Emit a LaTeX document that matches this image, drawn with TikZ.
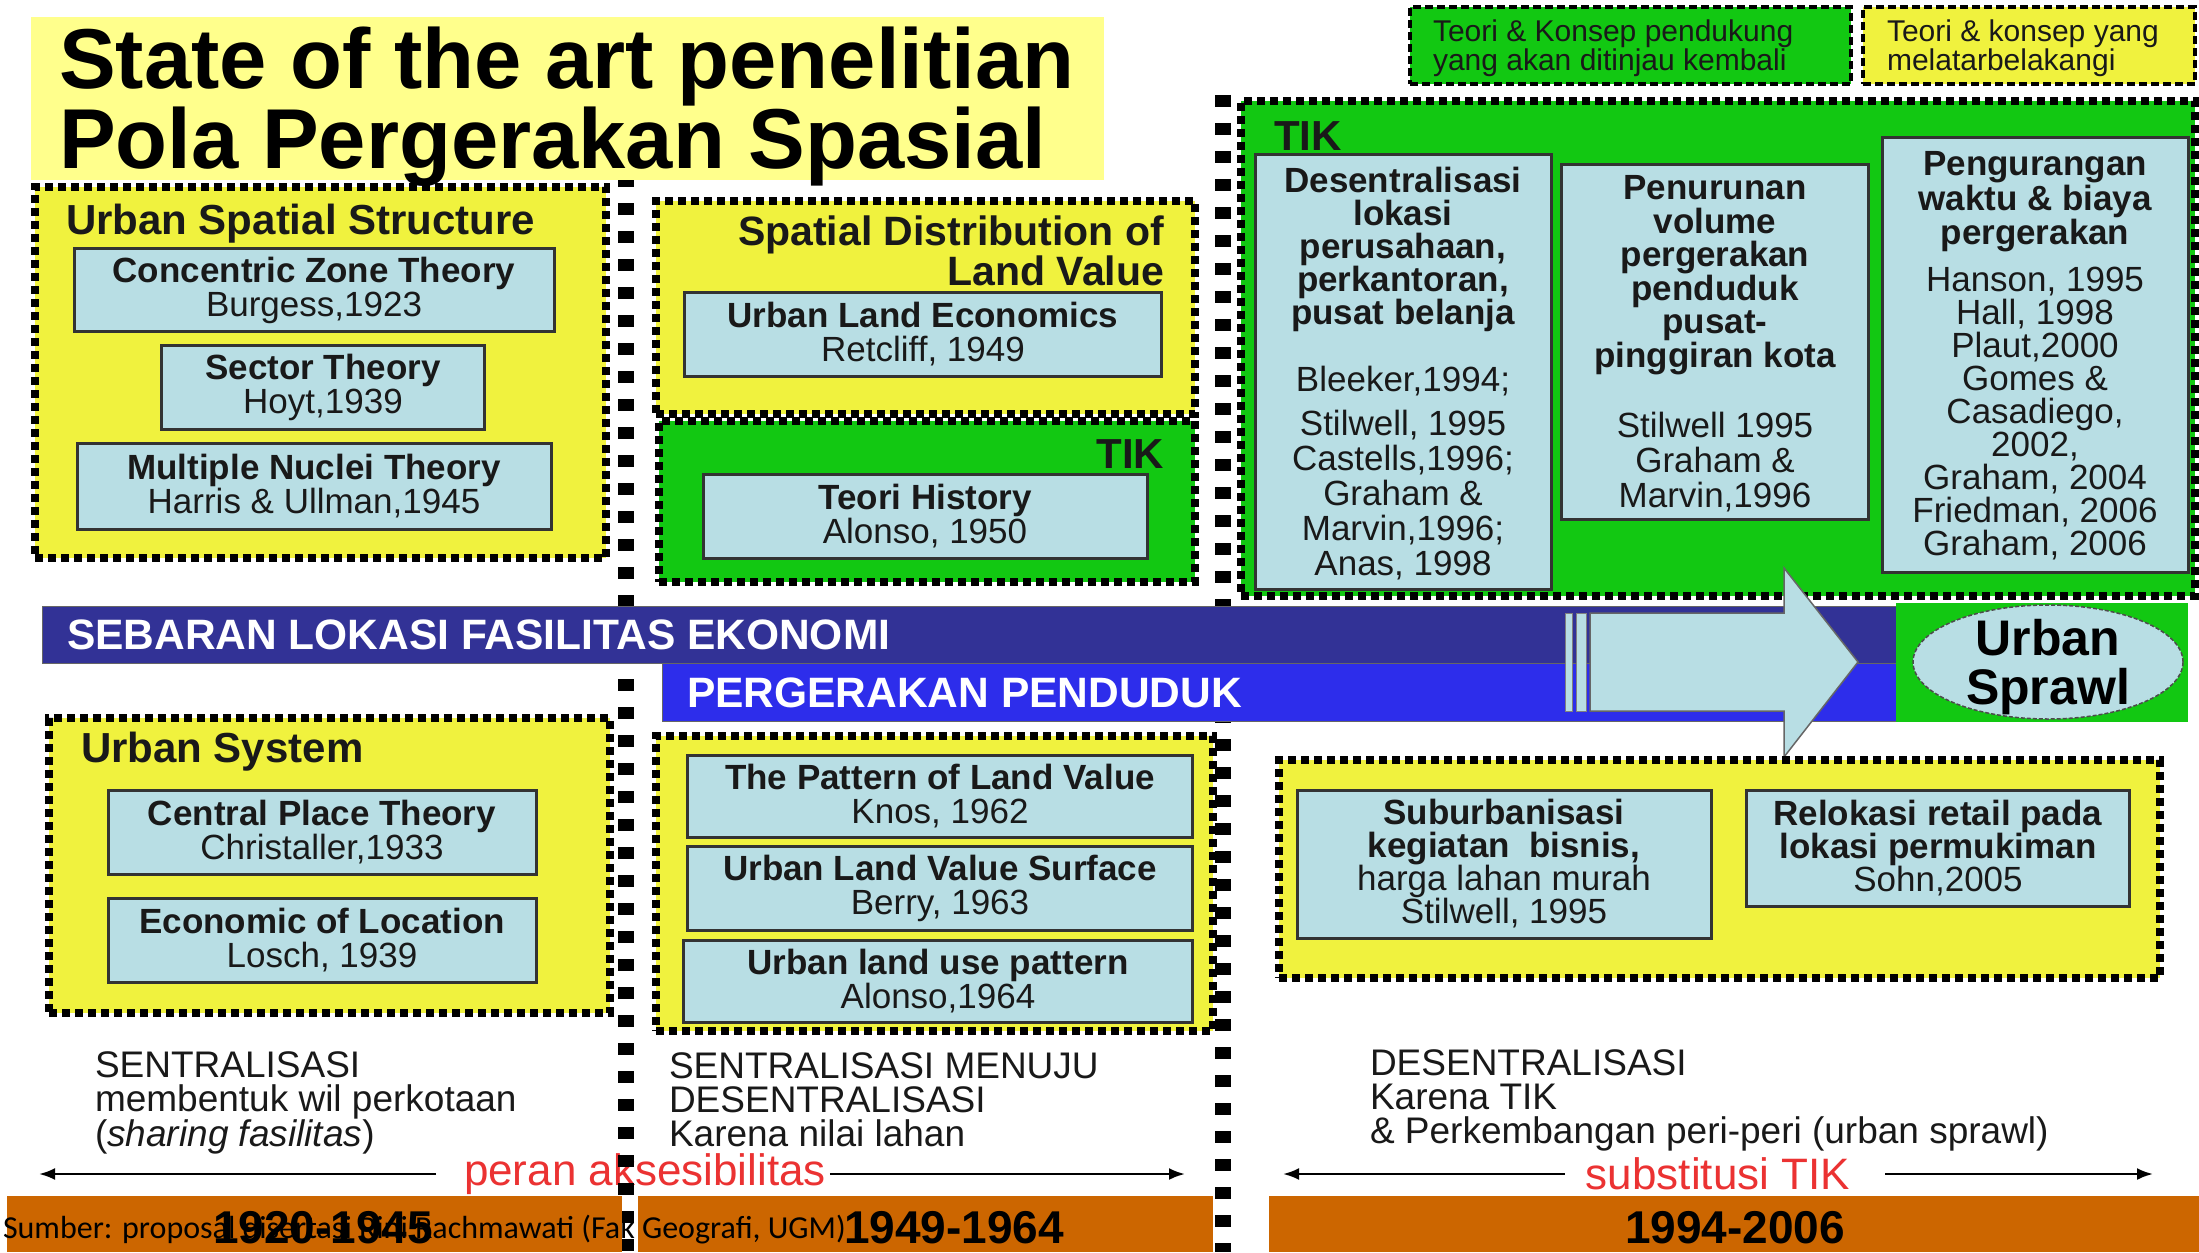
\documentclass[tikz,border=0pt]{standalone}
\usepackage{fontspec}
\setmainfont{Liberation Sans}
\newfontfamily\calib{Carlito}
\usetikzlibrary{shapes.geometric,arrows.meta}
\definecolor{titley}{RGB}{255,255,140}
\definecolor{boxy}{RGB}{240,242,62}
\definecolor{grn}{RGB}{18,200,18}
\definecolor{lblue}{RGB}{184,222,228}
\definecolor{dblue}{RGB}{50,50,150}
\definecolor{bblue}{RGB}{45,45,235}
\definecolor{orng}{RGB}{204,102,0}
\definecolor{redtxt}{RGB}{235,50,50}
\definecolor{txt}{RGB}{25,25,25}
\newcommand\fsz[2]{\fontsize{#1}{#2}\selectfont}
\begin{document}
\begin{tikzpicture}[x=1pt,y=-1pt,
 every node/.style={inner sep=0pt,outer sep=0pt,text=txt},
 ybox/.style={anchor=north west,fill=boxy,draw=black,line width=8pt,dash pattern=on 8pt off 5pt},
 gbox/.style={ybox,fill=grn},
 lbox/.style={fill=lblue,draw=black!80,line width=3pt,align=center,font=\fsz{35}{34}},
 hdr/.style={font=\fsz{42}{40}\bfseries},
 colt/.style={align=center},
 desc/.style={anchor=west,align=left,font=\fsz{37}{34}},
 sepline/.style={line width=16pt,dash pattern=on 12pt off 16pt},
 barline/.style={line width=2.5pt,-{Latex[length=16pt,width=12pt]}},
 redt/.style={text=redtxt,font=\fsz{44}{44}},
 yr/.style={font=\fsz{46}{46}\bfseries,text=black},
 legend/.style={anchor=north west,draw=black,line width=4pt,dash pattern=on 8pt off 4pt},
 bar/.style={anchor=north west,draw=black!60,line width=1pt},
]
\useasboundingbox (0,0) rectangle (2199,1252);
\fill[white] (0,0) rectangle (2199,1252);

% red labels (behind separators)
\node[redt] (pa) at (645,1174) {peran aksesibilitas};
\node[redt] (sti) at (1718,1174) {substitusi TIK};
\coordinate (pal) at (39,1174);
\coordinate (par) at (1185,1174);
\coordinate (stl) at (1283,1174);
\coordinate (str) at (2153,1174);
\draw[barline] ([xshift=-28pt]pa.west) -- (pal);
\draw[barline] ([xshift=4pt]pa.east) -- (par);
\draw[barline] ([xshift=-21pt]sti.west) -- (stl);
\draw[barline] ([xshift=35pt]sti.east) -- (str);

% separators
\coordinate (s1t) at (626,175); \coordinate (s1b) at (626,1252);
\coordinate (s2t) at (1223,95); \coordinate (s2b) at (1223,1252);
\draw[sepline] (s1t) -- (s1b);
\draw[sepline] (s2t) -- (s2b);

% title
\node[anchor=north west,fill=titley,minimum width=1073pt,minimum height=163pt] (titlebg) at (31,17) {};
\node[anchor=west,align=left,font=\fsz{85}{73}\bfseries,text=black] (title) at (59,107) {State of the art penelitian\\Pola Pergerakan Spasial};

% legend
\node[legend,fill=grn,minimum width=441pt,minimum height=77pt] (lgg) at (1410,7) {};
\node[anchor=west,align=left,font=\fsz{30}{29}] (lggt) at (1433,48) {Teori \& Konsep pendukung\\yang akan ditinjau kembali};
\node[legend,fill=boxy,minimum width=332pt,minimum height=77pt] (lgy) at (1863,7) {};
\node[anchor=west,align=left,font=\fsz{30}{29}] (lgyt) at (1887,48) {Teori \& konsep yang\\melatarbelakangi};

% Urban spatial structure
\node[ybox,minimum width=571pt,minimum height=371pt] (uss) at (35,187) {};
\node[hdr,anchor=west] (usst) at (66,224) {Urban Spatial Structure};
\node[lbox,minimum width=480pt,minimum height=83pt] (cz) at (314,290) {\textbf{Concentric Zone Theory}\\Burgess,1923};
\node[lbox,minimum width=323pt,minimum height=84pt] (st) at (323,387) {\textbf{Sector Theory}\\Hoyt,1939};
\node[lbox,minimum width=474pt,minimum height=86pt] (mn) at (314,486) {\textbf{Multiple Nuclei Theory}\\Harris \& Ullman,1945};

% spatial distribution
\node[ybox,minimum width=539pt,minimum height=213pt] (sd) at (656,201) {};
\node[anchor=east,align=right,font=\fsz{41}{40}\bfseries] (sdt) at (1164,251) {Spatial Distribution of\\Land Value};
\node[lbox,minimum width=477pt,minimum height=84pt] (ule) at (923,334) {\textbf{Urban Land Economics}\\Retcliff, 1949};

% TIK small
\node[gbox,minimum width=536pt,minimum height=161pt] (tik1) at (659,421) {};
\node[hdr,anchor=east] (tik1t) at (1164,454) {TIK};
\node[lbox,minimum width=444pt,minimum height=84pt] (th) at (925,516) {\textbf{Teori History}\\Alonso, 1950};

% TIK big
\node[gbox,minimum width=954pt,minimum height=495pt] (tik2) at (1241,101) {};
\node[hdr,anchor=west] (tik2t) at (1274,136) {TIK};
\node[lbox,minimum width=296pt,minimum height=435pt] (c1) at (1403,372) {};
\node[colt,font=\fsz{35}{33}\bfseries] (c1h) at (1403,249) {Desentralisasi\\lokasi\\perusahaan,\\perkantoran,\\pusat belanja};
\node[colt,font=\fsz{35}{35}] (c1r) at (1403,473) {Bleeker,1994;\\[9pt]Stilwell, 1995\\Castells,1996;\\Graham \&\\Marvin,1996;\\Anas, 1998};
\node[lbox,minimum width=307pt,minimum height=355pt] (c2) at (1715,342) {};
\node[colt,font=\fsz{35}{33.5}\bfseries] (c2h) at (1715,275) {Penurunan\\volume\\pergerakan\\penduduk\\pusat-\\pinggiran kota};
\node[colt,font=\fsz{35}{35}] (c2r) at (1715,462) {Stilwell 1995\\Graham \&\\Marvin,1996};
\node[lbox,minimum width=306pt,minimum height=435pt] (c3) at (2035,355) {};
\node[colt,font=\fsz{35}{34.5}\bfseries] (c3h) at (2035,202) {Pengurangan\\waktu \& biaya\\pergerakan};
\node[colt,font=\fsz{35}{33}] (c3r) at (2035,414) {Hanson, 1995\\Hall, 1998\\Plaut,2000\\Gomes \&\\Casadiego,\\2002,\\Graham, 2004\\Friedman, 2006\\Graham, 2006};

% bars
\node[bar,fill=dblue,minimum width=1858pt,minimum height=57pt] (bar1) at (42,606) {};
\node[anchor=west,font=\fsz{42.5}{42}\bfseries,text=white] (bar1t) at (67,635) {SEBARAN LOKASI FASILITAS EKONOMI};
\node[bar,fill=bblue,minimum width=1238pt,minimum height=58pt] (bar2) at (662,663) {};
\node[anchor=west,font=\fsz{42.5}{42}\bfseries,text=white] (bar2t) at (687,693) {PERGERAKAN PENDUDUK};

% urban sprawl
\node[anchor=north west,fill=grn,minimum width=292pt,minimum height=119pt] (spbox) at (1896,603) {};
\node[ellipse,fill=lblue,draw=black!70,line width=1.5pt,dash pattern=on 4pt off 2pt,minimum width=270pt,minimum height=114pt] (sprawl) at (2048,662) {};
\node[align=center,font=\fsz{50}{49}\bfseries,text=black] (sprawlt) at (2048,667) {Urban\\Sprawl};

% block arrow
\filldraw[fill=lblue,draw=black!60,line width=1.5pt] (1590,613) -- (1784,613) -- (1784,568) -- (1858,662) -- (1784,757) -- (1784,711) -- (1590,711) -- cycle;
\filldraw[fill=lblue,draw=black!50,line width=1pt] (1565,613) rectangle (1572,711);
\filldraw[fill=lblue,draw=black!50,line width=1pt] (1576,613) rectangle (1586,711);

% urban system
\node[ybox,minimum width=561pt,minimum height=295pt] (us) at (49,718) {};
\node[hdr,anchor=west] (ust) at (81,752) {Urban System};
\node[lbox,minimum width=428pt,minimum height=84pt] (cp) at (322,832) {\textbf{Central Place Theory}\\Christaller,1933};
\node[lbox,minimum width=428pt,minimum height=84pt] (el) at (322,940) {\textbf{Economic of Location}\\Losch, 1939};

% middle bottom
\node[ybox,minimum width=557pt,minimum height=295pt] (mb) at (656,736) {};
\node[lbox,minimum width=505pt,minimum height=82pt] (plv) at (940,796) {\textbf{The Pattern of Land Value}\\Knos, 1962};
\node[lbox,minimum width=505pt,minimum height=84pt] (ulvs) at (940,888) {\textbf{Urban Land Value Surface}\\Berry, 1963};
\node[lbox,minimum width=509pt,minimum height=82pt] (ulup) at (938,981) {\textbf{Urban land use pattern}\\Alonso,1964};

% right bottom
\node[ybox,minimum width=881pt,minimum height=218pt] (rb) at (1279,760) {};
\node[lbox,minimum width=414pt,minimum height=148pt,font=\fsz{35}{33}] (sub) at (1504,864) {\textbf{Suburbanisasi}\\\textbf{kegiatan\ \ bisnis,}\\harga lahan murah\\Stilwell, 1995};
\node[lbox,minimum width=383pt,minimum height=116pt,font=\fsz{35}{33}] (rel) at (1938,848) {\textbf{Relokasi retail pada}\\\textbf{lokasi permukiman}\\Sohn,2005};

% descriptions
\node[desc] (d1) at (95,1103) {SENTRALISASI\\membentuk wil perkotaan\\(\textit{sharing fasilitas})};
\node[desc] (d2) at (669,1100) {SENTRALISASI MENUJU\\DESENTRALISASI\\Karena nilai lahan};
\node[desc] (d3) at (1370,1100) {DESENTRALISASI\\Karena TIK\\\& Perkembangan peri-peri (urban sprawl)};

% year bars
\node[anchor=north west,fill=orng,minimum width=615pt,minimum height=56pt] (o1) at (7,1196) {};
\node[yr] (o1t) at (323,1228) {1920-1945};
\node[anchor=north west,fill=orng,minimum width=575pt,minimum height=56pt] (o2) at (638,1196) {};
\node[yr] (o2t) at (954,1228) {1949-1964};
\node[anchor=north west,fill=orng,minimum width=930pt,minimum height=56pt] (o3) at (1269,1196) {};
\node[yr] (o3t) at (1735,1228) {1994-2006};

% source
\node[anchor=west,font=\calib\fsz{32}{32},text=black] (src) at (3,1230) {Sumber: proposal disertasi Rini Rachmawati (Fak Geografi, UGM)};
\end{tikzpicture}
\end{document}
